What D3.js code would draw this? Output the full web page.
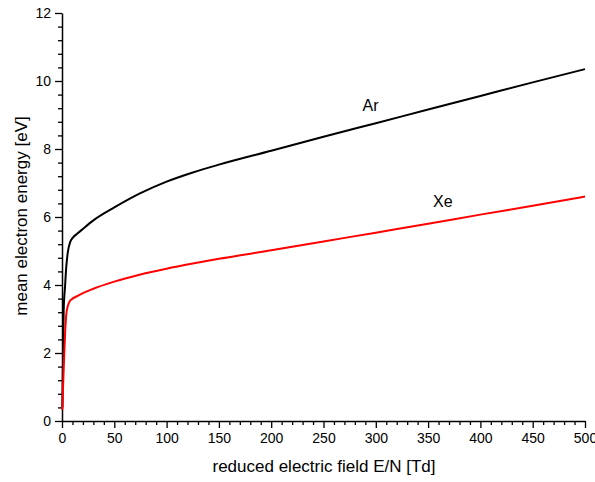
<!DOCTYPE html>
<html><head><meta charset="utf-8">
<script src="https://cdn.jsdelivr.net/npm/d3@7"></script>
<style>
body{margin:0;background:#fff}
svg{display:block}
text{font-family:"Liberation Sans",Arial,sans-serif;fill:#000}
</style>
</head><body>
<svg id="chart" width="595" height="482"></svg>
<script>
// ---- data ----
const fieldAr  = [0.3, 1, 1.6, 2.9, 4, 5.4, 7.9, 10, 15, 20, 30, 50, 75, 100, 125, 150, 200, 250, 300, 350, 400, 450, 500];
const energyAr = [0.4, 1.8, 3.25, 3.95, 4.5, 4.93, 5.27, 5.38, 5.52, 5.65, 5.9, 6.28, 6.7, 7.04, 7.31, 7.54, 7.95, 8.36, 8.76, 9.16, 9.56, 9.96, 10.35];
const fieldXe  = [0.3, 1, 2.2, 3, 4, 5.4, 7, 9.3, 15, 20, 30, 50, 75, 100, 125, 150, 200, 250, 300, 350, 400, 450, 500];
const energyXe = [0.32, 1.0, 2.0, 2.6, 3.1, 3.36, 3.5, 3.58, 3.68, 3.76, 3.89, 4.1, 4.31, 4.48, 4.63, 4.77, 5.02, 5.28, 5.54, 5.8, 6.07, 6.33, 6.6];
const seriesNames = ["Ar", "Xe"];
const xTicks = [0, 50, 100, 150, 200, 250, 300, 350, 400, 450, 500];
const yTicks = [0, 2, 4, 6, 8, 10, 12];
const xTitle = "reduced electric field E/N [Td]";
const yTitle = "mean electron energy [eV]";

// ---- layout ----
const svg = d3.select("#chart");
const m = {left: 62, top: 13, right: 10, bottom: 61};
const W = 595, H = 482;
const x = d3.scaleLinear().domain([0, 500]).range([m.left, W - m.right]);
const y = d3.scaleLinear().domain([0, 12]).range([H - m.bottom, m.top]);

const xMinor = d3.range(0, 501, 10).filter(v => v % 50 !== 0);
const yMinor = d3.range(0, 61, 2).map(v => v / 5).filter(v => Math.abs(v / 2 - Math.round(v / 2)) > 1e-6);

function styleAxis(g) {
  g.selectAll(".domain").attr("stroke", "#000").attr("stroke-width", 1.5);
  g.selectAll(".tick line").attr("stroke", "#000").attr("stroke-width", 1.3);
  g.selectAll(".tick text").style("font-size", "14px").attr("fill", "#000");
}

// minor ticks
svg.append("g").attr("transform", `translate(0,${y(0)})`)
  .call(d3.axisBottom(x).tickValues(xMinor).tickSize(4).tickFormat(""))
  .call(g => { styleAxis(g); g.select(".domain").remove(); });
svg.append("g").attr("transform", `translate(${x(0)},0)`)
  .call(d3.axisLeft(y).tickValues(yMinor).tickSize(4).tickFormat(""))
  .call(g => { styleAxis(g); g.select(".domain").remove(); });

// major axes
svg.append("g").attr("transform", `translate(0,${y(0)})`)
  .call(d3.axisBottom(x).tickValues(xTicks).tickSize(7).tickSizeOuter(0).tickPadding(5).tickFormat(d3.format("d")))
  .call(styleAxis);
svg.append("g").attr("transform", `translate(${x(0)},0)`)
  .call(d3.axisLeft(y).tickValues(yTicks).tickSize(7).tickSizeOuter(0).tickPadding(4).tickFormat(d3.format("d")))
  .call(styleAxis);

// titles
svg.append("text").attr("x", 324).attr("y", 472).attr("text-anchor", "middle")
  .style("font-size", "17px").text(xTitle);
svg.append("text").attr("transform", "translate(27,216) rotate(-90)").attr("text-anchor", "middle")
  .style("font-size", "17px").text(yTitle);

// lines
const line = d3.line().x(d => x(d[0])).y(d => y(d[1])).curve(d3.curveMonotoneX);
const series = [
  {name: seriesNames[0], pts: d3.zip(fieldAr, energyAr), color: "#000000", lx: 295, ly: 9.12},
  {name: seriesNames[1], pts: d3.zip(fieldXe, energyXe), color: "#ff0000", lx: 364, ly: 6.29}
];
series.forEach(s => {
  svg.append("path").datum(s.pts).attr("fill", "none").attr("stroke", s.color)
    .attr("stroke-width", 2).attr("stroke-linejoin", "round").attr("d", line);
  svg.append("text").attr("x", x(s.lx)).attr("y", y(s.ly)).attr("text-anchor", "middle")
    .style("font-size", "16px").text(s.name);
});
</script>
</body></html>
